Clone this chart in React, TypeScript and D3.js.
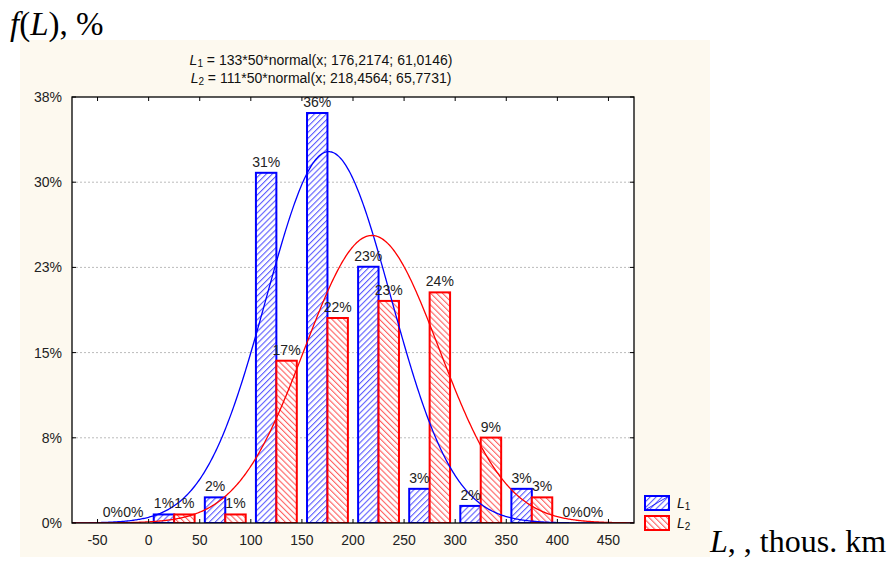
import React from "react";
import * as d3 from "d3";

const binCenters = [-25, 25, 75, 125, 175, 225, 275, 325, 375, 425];
const countsL1 = [0, 1, 3, 41, 48, 30, 4, 2, 4, 0];
const countsL2 = [0, 1, 1, 19, 24, 26, 27, 10, 3, 0];
const totalL1 = 133;
const totalL2 = 111;
const fitL1 = { n: 133, w: 50, mean: 176.2174, sd: 61.0146 };
const fitL2 = { n: 111, w: 50, mean: 218.4564, sd: 65.7731 };
const yTicks = [0, 7.5, 15, 22.5, 30, 37.5];
const xTicks = [-50, 0, 50, 100, 150, 200, 250, 300, 350, 400, 450];

const W = 888, H = 563;
const M = { left: 72, right: 634, top: 97, bottom: 523 };
const SANS = "'Liberation Sans', Arial, sans-serif";
const SERIF = "'Liberation Serif', 'Times New Roman', serif";

export default function App() {
  const x = d3.scaleLinear().domain([-75, 475]).range([M.left, M.right]);
  const y = d3.scaleLinear().domain([0, 37.5]).range([M.bottom, M.top]);
  const pdf = (v: number, m: number, s: number) =>
    Math.exp(-((v - m) ** 2) / (2 * s * s)) / (s * Math.sqrt(2 * Math.PI));
  const xs = d3.range(-75, 475.5, 1);
  const mk = (f: typeof fitL1) =>
    d3
      .line<number>()
      .x((d) => x(d))
      .y((d) => y(((f.n * f.w * pdf(d, f.mean, f.sd)) / totalL1) * 100))(xs) || "";
  const bw = x(20) - x(0);
  const fmt = (c: number, n: number) => `${Math.round((c / n) * 100)}%`;

  return (
    <svg width={W} height={H} style={{ position: "absolute", left: 0, top: 0 }}>
      <defs>
        <pattern id="hb" width="4.2" height="4.2" patternUnits="userSpaceOnUse" patternTransform="rotate(45)">
          <rect width="4.2" height="4.2" fill="#ffffff" />
          <line x1="0" y1="0" x2="0" y2="4.2" stroke="#5c5cff" strokeWidth="2.2" />
        </pattern>
        <pattern id="hr" width="4.2" height="4.2" patternUnits="userSpaceOnUse" patternTransform="rotate(-45)">
          <rect width="4.2" height="4.2" fill="#ffffff" />
          <line x1="0" y1="0" x2="0" y2="4.2" stroke="#ff6060" strokeWidth="2.2" />
        </pattern>
        <clipPath id="clip">
          <rect x={M.left} y={M.top} width={M.right - M.left} height={M.bottom - M.top} />
        </clipPath>
      </defs>
      <rect x={0} y={0} width={W} height={H} fill="#ffffff" />
      <rect x={20} y={40} width={690} height={517} fill="#fdf9ef" />
      <rect x={M.left} y={M.top} width={M.right - M.left} height={M.bottom - M.top} fill="#ffffff" />
      {yTicks.slice(1, -1).map((t) => (
        <line key={t} x1={M.left} x2={M.right} y1={y(t)} y2={y(t)} stroke="#bbbbbb" strokeDasharray="2,2" strokeWidth={1} />
      ))}
      <g clipPath="url(#clip)">
        {binCenters.map((c, i) => (
          <g key={c}>
            <rect x={x(c - 20)} y={y((countsL1[i] / totalL1) * 100)} width={bw}
              height={y(0) - y((countsL1[i] / totalL1) * 100)} fill="url(#hb)" stroke="#0000ff" strokeWidth={2} />
            <rect x={x(c)} y={y((countsL2[i] / totalL1) * 100)} width={bw}
              height={y(0) - y((countsL2[i] / totalL1) * 100)} fill="url(#hr)" stroke="#ff0000" strokeWidth={2} />
          </g>
        ))}
        <path d={mk(fitL1)} fill="none" stroke="#0000ff" strokeWidth={1.3} />
        <path d={mk(fitL2)} fill="none" stroke="#ff0000" strokeWidth={1.3} />
      </g>
      {binCenters.map((c, i) => (
        <g key={"l" + c} fontFamily={SANS} fontSize={14} fill="#222" textAnchor="middle">
          <text x={x(c - 10)} y={y((countsL1[i] / totalL1) * 100) - 6}>{fmt(countsL1[i], totalL1)}</text>
          <text x={x(c + 10)} y={y((countsL2[i] / totalL1) * 100) - 6}>{fmt(countsL2[i], totalL2)}</text>
        </g>
      ))}
      <rect x={M.left} y={M.top} width={M.right - M.left} height={M.bottom - M.top} fill="none" stroke="#000" strokeWidth={1.3} />
      {xTicks.map((t) => (
        <g key={"x" + t}>
          <line x1={x(t)} x2={x(t)} y1={M.bottom} y2={M.bottom - 4} stroke="#000" />
          <line x1={x(t)} x2={x(t)} y1={M.top} y2={M.top + 4} stroke="#000" />
          <text x={x(t)} y={545} textAnchor="middle" fontFamily={SANS} fontSize={14} fill="#222">{t}</text>
        </g>
      ))}
      {yTicks.map((t) => (
        <g key={"y" + t}>
          <line x1={M.left} x2={M.left + 4} y1={y(t)} y2={y(t)} stroke="#000" />
          <line x1={M.right} x2={M.right - 4} y1={y(t)} y2={y(t)} stroke="#000" />
          <text x={62} y={y(t) + 5} textAnchor="end" fontFamily={SANS} fontSize={14} fill="#222">{`${Math.round(t)}%`}</text>
        </g>
      ))}
      <g fontFamily={SANS} fontSize={14} fill="#111" textAnchor="middle">
        <text x={321} y={65}>
          <tspan fontStyle="italic">L</tspan><tspan fontSize={10} dy={2}>1</tspan>
          <tspan dy={-2}> = 133*50*normal(x; 176,2174; 61,0146)</tspan>
        </text>
        <text x={321} y={83}>
          <tspan fontStyle="italic">L</tspan><tspan fontSize={10} dy={2}>2</tspan>
          <tspan dy={-2}> = 111*50*normal(x; 218,4564; 65,7731)</tspan>
        </text>
      </g>
      <g>
        <rect x={645} y={496} width={24} height={14} fill="url(#hb)" stroke="#0000ff" strokeWidth={2} />
        <line x1={645} y1={510} x2={669} y2={496} stroke="#0000ff" strokeWidth={0.8} />
        <rect x={645} y={516} width={24} height={14} fill="url(#hr)" stroke="#ff0000" strokeWidth={2} />
        <text x={677} y={508} fontFamily={SANS} fontSize={14} fill="#111">
          <tspan fontStyle="italic">L</tspan><tspan fontSize={10} dy={2}>1</tspan>
        </text>
        <text x={677} y={528} fontFamily={SANS} fontSize={14} fill="#111">
          <tspan fontStyle="italic">L</tspan><tspan fontSize={10} dy={2}>2</tspan>
        </text>
      </g>
      <text x={10} y={35} fontFamily={SERIF} fontSize={33} fill="#000">
        <tspan fontStyle="italic">f</tspan>(<tspan fontStyle="italic">L</tspan>), %
      </text>
      <text x={710} y={552} fontFamily={SERIF} fontSize={32} fill="#000">
        <tspan fontStyle="italic">L</tspan>, , thous. km
      </text>
    </svg>
  );
}
